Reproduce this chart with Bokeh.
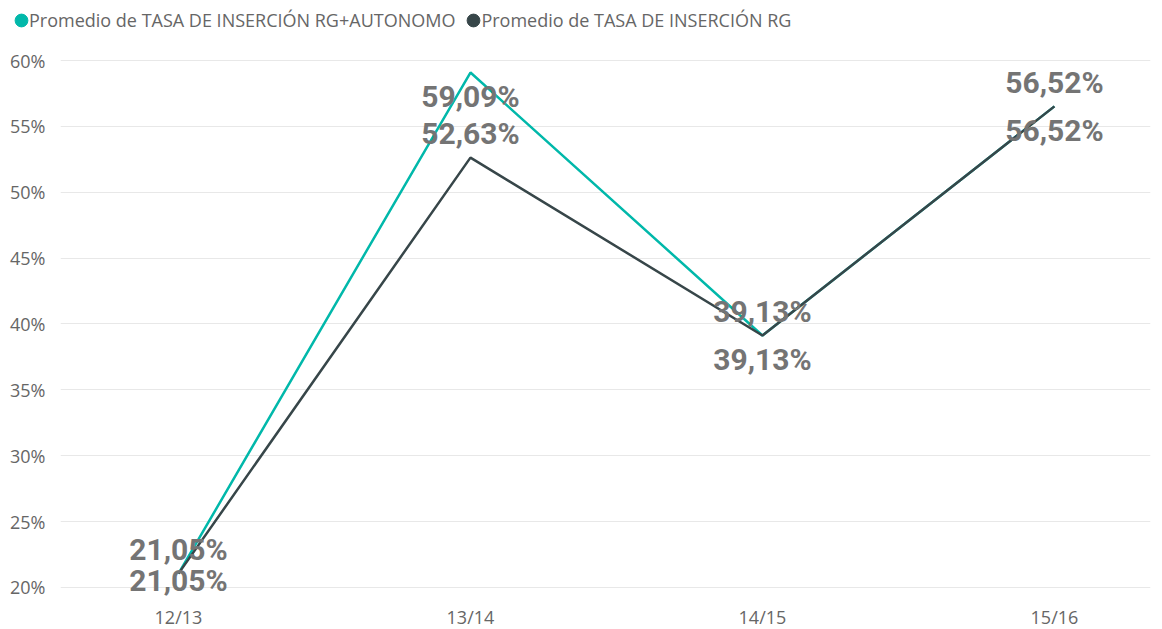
from bokeh.plotting import figure
from bokeh.layouts import column
from bokeh.models import Range1d, Legend, LegendItem, NumeralTickFormatter, FixedTicker, ColumnDataSource
from bokeh.embed import file_html
from bokeh.resources import INLINE
from bokeh.core.properties import value

categories = ["12/13", "13/14", "14/15", "15/16"]
rg_autonomo = [0.2105, 0.5909, 0.3913, 0.5652]
rg = [0.2105, 0.5263, 0.3913, 0.5652]
y_ticks = [0.20, 0.25, 0.30, 0.35, 0.40, 0.45, 0.50, 0.55, 0.60]
series_names = ["Promedio de TASA DE INSERCIÓN RG+AUTONOMO", "Promedio de TASA DE INSERCIÓN RG"]
colors = ["#01B8AA", "#374649"]

FRAME_W, FRAME_H = 1090, 555
Y0, Y1 = 0.1901, 0.6114
xs = list(range(len(categories)))
TOTAL_W = 60 + FRAME_W + 4

# legend strip (its view range lies above the data, so only the legend shows)
lg = figure(width=TOTAL_W, height=45, output_backend="svg", toolbar_location=None,
            x_axis_location=None, y_axis_location=None,
            x_range=Range1d(-0.404, 3.329), y_range=Range1d(2, 3),
            min_border_left=0, min_border_right=0, min_border_top=0, min_border_bottom=0)
lg.outline_line_color = None
lg.xgrid.grid_line_color = None
lg.ygrid.grid_line_color = None
legend_x = 13
if "frame_align" in lg.properties():
    lg.frame_align = False
else:
    legend_x = 13 - 60
s1 = lg.ellipse(xs, rg_autonomo, width=13, height=13, width_units="screen", height_units="screen",
                fill_color=colors[0], line_color=colors[0])
s2 = lg.ellipse(xs, rg, width=13, height=13, width_units="screen", height_units="screen",
                fill_color=colors[1], line_color=colors[1])
legend = Legend(items=[LegendItem(label=series_names[0], renderers=[s1]),
                       LegendItem(label=series_names[1], renderers=[s2])],
                orientation="horizontal", location=(legend_x, 13),
                glyph_width=16, glyph_height=16, label_standoff=0, spacing=10,
                padding=0, margin=0, border_line_color=None, background_fill_alpha=0,
                label_text_font="Open Sans", label_text_font_size="18px", label_text_color="#666666")
lg.add_layout(legend, "center")

p = figure(frame_width=FRAME_W, frame_height=FRAME_H, output_backend="svg", toolbar_location=None,
           x_range=Range1d(-0.404, 3.329), y_range=Range1d(Y0, Y1),
           min_border_left=60, min_border_right=4, min_border_top=0, min_border_bottom=0)
p.outline_line_color = None
p.background_fill_color = "white"
p.border_fill_color = "white"

p.xgrid.grid_line_color = None
p.ygrid.grid_line_color = "#e8e8e8"
p.ygrid.grid_line_width = 1

p.yaxis.ticker = FixedTicker(ticks=y_ticks)
p.yaxis.formatter = NumeralTickFormatter(format="0%")
p.xaxis.ticker = FixedTicker(ticks=xs)
p.xaxis.major_label_overrides = {i: c for i, c in enumerate(categories)}
for ax in (p.xaxis[0], p.yaxis[0]):
    ax.axis_line_color = None
    ax.major_tick_line_color = None
    ax.minor_tick_line_color = None
    ax.major_tick_out = 0
    ax.major_tick_in = 0
    ax.minor_tick_out = 0
    ax.major_label_text_color = "#666666"
    ax.major_label_text_font = "Open Sans"
p.yaxis.major_label_text_font_size = "18px"
p.xaxis.major_label_text_font_size = "18px"
p.yaxis.major_label_standoff = 15
p.xaxis.major_label_standoff = 4

l1 = p.line(xs, rg_autonomo, line_color=colors[0], line_width=2.5)
l2 = p.line(xs, rg, line_color=colors[1], line_width=2.5)

px_per_unit = FRAME_H / (Y1 - Y0)
off = 24 / px_per_unit
ymin_label = Y0 + 20 / px_per_unit

lx, ly, lt = [], [], []
for i, (a, b) in enumerate(zip(rg_autonomo, rg)):
    if a == b:
        ya, yb = a + off, b - off
    elif a > b:
        ya, yb = a - off, b + off
    else:
        ya, yb = a + off, b - off
    for v, yy in ((a, ya), (b, yb)):
        lx.append(i)
        ly.append(max(yy, ymin_label))
        lt.append(f"{v*100:.2f}%".replace(".", ","))

src = ColumnDataSource(dict(x=lx, y=ly, t=lt))
p.text(x="x", y="y", text="t", source=src, text_align="center", text_baseline="middle",
       text_font=value("Roboto"), text_font_size="30px", text_font_style="bold", text_color="#747474")

layout = column(lg, p, spacing=0)
open("out.html", "w").write(file_html(layout, INLINE))
